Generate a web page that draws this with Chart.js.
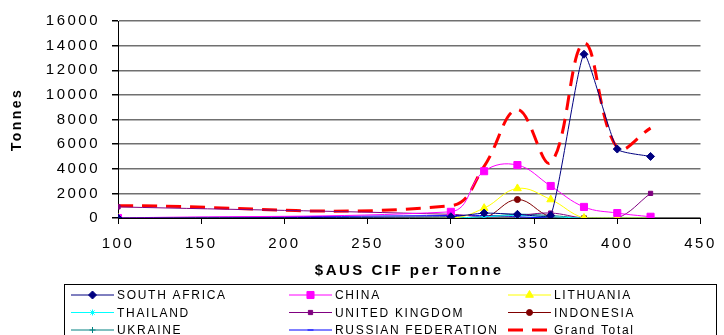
<!DOCTYPE html>
<html>
<head>
<meta charset="utf-8">
<script src="https://cdn.jsdelivr.net/npm/chart.js@4.4.1/dist/chart.umd.min.js"></script>
<style>
  body { margin: 0; background: #fff; }
  #wrap { width: 724px; height: 335px; position: relative; }
</style>
</head>
<body>
<div id="wrap"><canvas id="myChart"></canvas></div>
<script>
// price points ($AUS CIF per tonne) and tonnes per country
const prices = [100, 300, 320, 340, 360, 380, 400, 420];

const southAfrica = [0, 100, 400, 300, 200, 13300, 5600, 5000];
const china = [0, 500, 3800, 4300, 2600, 900, 400, 100];
const lithuania = [0, 0, 800, 2400, 1500, 0, 0, 0];
const thailand = [0, 0, 100, 200, 100, 0, 0, 0];
const unitedKingdom = [900, 300, 100, 200, 400, 0, 0, 2000];
const indonesia = [0, 0, 0, 1500, 100, 0, 0, 0];
const ukraine = [0, 0, 100, 300, 200, 0, 0, 0];
const russianFed = [0, 200, 200, 100, 0, 0, 0, 0];
const grandTotal = [1000, 1000, 4200, 8800, 4500, 14200, 5700, 7300];

const xMin = 100, xMax = 450, xStep = 50;
const yMin = 0, yMax = 16000, yStep = 2000;

function pts(vals) {
  return vals.map((v, i) => ({x: prices[i], y: v}));
}

function series(label, vals, color, style, radius) {
  return {
    label: label,
    data: pts(vals),
    borderColor: color,
    backgroundColor: color,
    pointBackgroundColor: color,
    pointBorderColor: color,
    borderWidth: 1,
    pointStyle: style,
    pointRadius: radius,
    pointBorderWidth: 1,
    tension: 0.4
  };
}

const datasets = [
  series('SOUTH AFRICA', southAfrica, '#000080', 'rectRot', 4),
  series('CHINA', china, '#FF00FF', 'rect', 5),
  series('LITHUANIA', lithuania, '#FFFF00', 'triangle', 4.5),
  series('THAILAND', thailand, '#00FFFF', 'star', 3),
  series('UNITED KINGDOM', unitedKingdom, '#800080', 'rect', 3),
  series('INDONESIA', indonesia, '#800000', 'circle', 3),
  series('UKRAINE', ukraine, '#008080', 'cross', 3),
  series('RUSSIAN FEDERATION', russianFed, '#0000FF', 'line', 3),
];
datasets[0].tension = 0.15;
let total = series('Grand Total', grandTotal, '#FF0000', 'circle', 0);
total.borderWidth = 3;
total.borderDash = [15, 9];
datasets.push(total);

// legend laid out as a 3x3 box like the excel one
const legendCols = [71, 289, 508];
const legendRows = [295, 312.5, 330];
const drawPoint = Chart.helpers ? Chart.helpers.drawPoint : null;

const boxLegend = {
  id: 'boxLegend',
  beforeDraw(chart) {
    chart.ctx.letterSpacing = '2.5px';
  },
  afterDraw(chart) {
    const ctx = chart.ctx;
    ctx.save();
    ctx.letterSpacing = '1.7px';
    ctx.strokeStyle = '#000';
    ctx.lineWidth = 1;
    ctx.setLineDash([]);
    ctx.strokeRect(64.5, 284.5, 652, 60);
    ctx.font = '12px "Liberation Sans", Arial, sans-serif';
    ctx.textBaseline = 'middle';
    chart.data.datasets.forEach((ds, i) => {
      const x0 = legendCols[i % 3];
      const y = legendRows[Math.floor(i / 3)];
      ctx.save();
      ctx.strokeStyle = ds.borderColor;
      ctx.lineWidth = ds.borderWidth;
      ctx.setLineDash(ds.borderDash || []);
      ctx.beginPath();
      ctx.moveTo(x0, y);
      ctx.lineTo(x0 + 43, y);
      ctx.stroke();
      ctx.restore();
      if (ds.pointRadius > 0 && drawPoint) {
        ctx.save();
        ctx.fillStyle = ds.pointBackgroundColor;
        ctx.strokeStyle = ds.pointBorderColor;
        ctx.lineWidth = 1;
        drawPoint(ctx, {pointStyle: ds.pointStyle, radius: ds.pointRadius, borderWidth: 1, rotation: 0}, x0 + 21.5, y);
        ctx.restore();
      }
      ctx.fillStyle = '#000';
      ctx.fillText(ds.label, x0 + 46, y + 1);
    });
    ctx.restore();
  }
};

Chart.defaults.font.family = '"Liberation Sans", Arial, sans-serif';
Chart.defaults.color = '#000';

const chart = new Chart(document.getElementById('myChart'), {
  type: 'line',
  data: {datasets: datasets},
  plugins: [boxLegend],
  options: {
    responsive: true,
    maintainAspectRatio: false,
    animation: false,
    layout: {padding: {top: 20, right: 22, bottom: 55, left: 0}},
    plugins: {
      legend: {display: false},
      tooltip: {enabled: false}
    },
    scales: {
      x: {
        type: 'linear',
        min: xMin,
        max: xMax,
        ticks: {stepSize: xStep, font: {size: 15}, padding: 11, maxRotation: 0, callback: v => String(v)},
        grid: {drawOnChartArea: false, tickLength: 6, tickColor: '#000'},
        border: {color: '#000', width: 1},
        title: {display: true, text: '$AUS CIF per Tonne', font: {size: 15, weight: 'bold'}, padding: {top: 0, bottom: 0}},
        afterFit(scale) { scale.height = 62; }
      },
      y: {
        min: yMin,
        max: yMax,
        ticks: {stepSize: yStep, font: {size: 15}, padding: 12, callback: v => String(v)},
        grid: {color: '#707070', lineWidth: 1.5, tickLength: 6, tickColor: '#000'},
        border: {color: '#000', width: 1},
        title: {display: true, text: 'Tonnes', font: {size: 14, weight: 'bold'}, padding: {top: 9, bottom: 0}},
        afterFit(scale) { scale.width = 118; }
      }
    }
  }
});
</script>
</body>
</html>
